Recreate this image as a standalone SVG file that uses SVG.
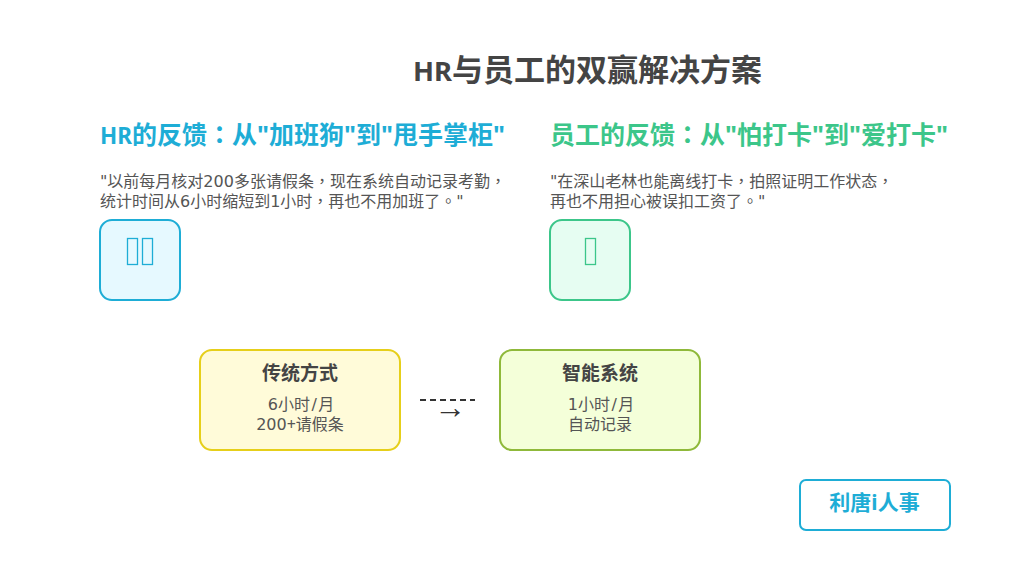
<svg xmlns="http://www.w3.org/2000/svg" width="1024" height="576" viewBox="0 0 1024 576">
<style>
text{font-family:"DejaVu Sans","Noto Sans CJK TC",sans-serif}
.n{font-family:"Noto Sans","Noto Sans CJK TC",sans-serif}
.t{font-size:16px;fill:#555}
.h{font-size:25px;font-weight:700}
.hr{font-size:22.5px}
.b{font-size:19px;font-weight:700;fill:#444;text-anchor:middle}
.s{font-size:16px;fill:#555;text-anchor:middle}
.g{fill:none;stroke-width:1.3}
</style>
<rect width="1024" height="576" fill="#fff"/>
<text class="n" x="413" y="81" font-size="31" font-weight="700" fill="#444"><tspan font-size="27.5">HR</tspan>与员工的双赢解决方案</text>
<text class="h n" x="100" y="144" fill="#1eadd6"><tspan class="hr">HR</tspan>的反馈：从"加班狗"到"甩手掌柜"</text>
<text class="t" x="100" y="187">"以前每月核对200多张请假条，现在系统自动记录考勤，</text>
<text class="t" x="100" y="207">统计时间从6小时缩短到1小时，再也不用加班了。"</text>
<g id="hr-icon"><rect x="100" y="220" width="80" height="80" rx="12" fill="#e6f9ff" stroke="#1eadd6" stroke-width="2"/><rect class="g" x="127.5" y="238.5" width="10" height="26" stroke="#1eadd6"/><rect class="g" x="142.5" y="238.5" width="10" height="26" stroke="#1eadd6"/></g>
<text class="h n" x="550" y="144" fill="#3cc68a">员工的反馈：从"怕打卡"到"爱打卡"</text>
<text class="t" x="550" y="187">"在深山老林也能离线打卡，拍照证明工作状态，</text>
<text class="t" x="550" y="207">再也不用担心被误扣工资了。"</text>
<g id="emp-icon"><rect x="550" y="220" width="80" height="80" rx="12" fill="#e6fdf2" stroke="#3cc68a" stroke-width="2"/><rect class="g" x="585.5" y="238.5" width="10" height="26" stroke="#3cc68a"/></g>
<g id="old"><rect x="200" y="350" width="200" height="100" rx="12" fill="#fffbd9" stroke="#e6cf1a" stroke-width="2"/><text class="b" x="300" y="380">传统方式</text><text class="s" x="301" y="410">6小时<tspan dx="1.5">/</tspan><tspan dx="1.5">月</tspan></text><text class="s" x="300" y="430">200<tspan class="n">+</tspan>请假条</text></g>
<g id="connectors"><line x1="420" y1="400" x2="475" y2="400" stroke="#333" stroke-width="2" stroke-dasharray="6 4"/><text x="450" y="417.5" font-size="32" fill="#333" text-anchor="middle" style="font-family:'Liberation Sans',sans-serif">→</text></g>
<g id="new"><rect x="500" y="350" width="200" height="100" rx="12" fill="#f4ffd9" stroke="#8fb93a" stroke-width="2"/><text class="b" x="600" y="380">智能系统</text><text class="s" x="601" y="410">1小时<tspan dx="1.5">/</tspan><tspan dx="1.5">月</tspan></text><text class="s" x="600" y="430">自动记录</text></g>
<g id="brand"><rect x="800" y="480" width="150" height="50" rx="6" fill="#fff" stroke="#1eadd6" stroke-width="2"/><text class="n" x="874.5" y="510" font-size="21" font-weight="700" fill="#1eadd6" text-anchor="middle">利唐i人事</text></g>
</svg>
